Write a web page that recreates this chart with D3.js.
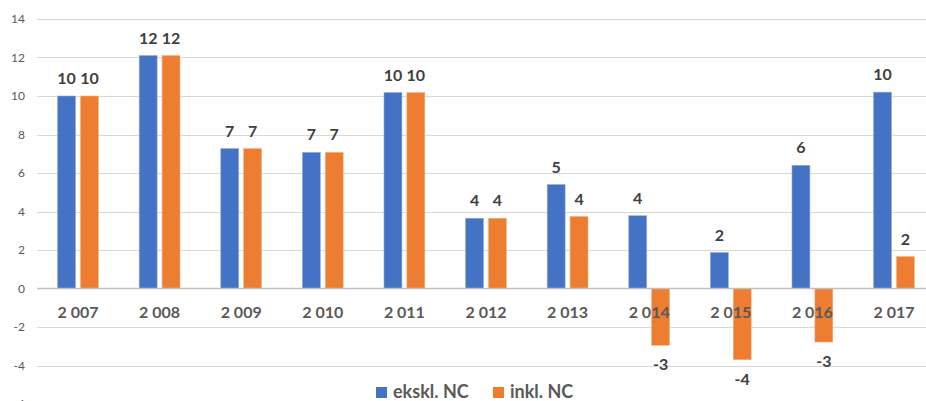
<!DOCTYPE html>
<html>
<head>
<meta charset="utf-8">
<script src="https://cdn.jsdelivr.net/npm/d3@7"></script>
<style>
  html, body { margin: 0; padding: 0; background: #fff; }
  svg { display: block; font-family: Lato, "Open Sans", sans-serif; }
</style>
</head>
<body>
<svg id="chart" width="926" height="401"></svg>
<script>
const categories = ["2 007","2 008","2 009","2 010","2 011","2 012","2 013","2 014","2 015","2 016","2 017"];
const ekskl = [10.0, 12.1, 7.27, 7.07, 10.18, 3.65, 5.4, 3.78, 1.87, 6.4, 10.2];
const inkl  = [10.0, 12.1, 7.27, 7.07, 10.18, 3.65, 3.74, -2.95, -3.7, -2.78, 1.66];
const seriesNames = ["ekskl. NC", "inkl. NC"];
const seriesColors = ["#4472C4", "#ED7D31"];
const yTicks = [-6, -4, -2, 0, 2, 4, 6, 8, 10, 12, 14];

const svg = d3.select("#chart");
const W = 926;
const textColor = "#595959";

const x = d3.scaleBand().domain(categories).range([37.2, 934.8]).paddingInner(0.5).paddingOuter(0.25);
const xInner = d3.scaleBand().domain([0, 1]).range([0, x.bandwidth()]).paddingInner(5/23);
const y = d3.scaleLinear().domain([-6, 14]).range([404, 19]);

// gridlines
svg.append("g").selectAll("line").data(yTicks.filter(d => d !== 0)).join("line")
  .attr("x1", 37).attr("x2", W)
  .attr("y1", d => Math.round(y(d)) + 0.5).attr("y2", d => Math.round(y(d)) + 0.5)
  .attr("stroke", "#d9d9d9").attr("stroke-width", 1);

// y tick labels
svg.append("g").selectAll("text").data(yTicks).join("text")
  .attr("x", 25).attr("y", d => y(d) + 4)
  .attr("text-anchor", "end")
  .attr("font-size", 12).attr("fill", textColor)
  .text(d => String(d));

// bars
const rows = categories.map((c, i) => ({ c, vals: [ekskl[i], inkl[i]] }));
const fmt = d3.formatLocale({decimal: ".", thousands: " ", grouping: [3], currency: ["", ""], minus: "-"}).format(".0f");
const groups = svg.append("g").selectAll("g").data(rows).join("g")
  .attr("transform", d => `translate(${x(d.c)},0)`);

groups.selectAll("rect").data(d => d.vals.map((v, k) => ({ v, k }))).join("rect")
  .attr("x", d => xInner(d.k))
  .attr("width", xInner.bandwidth())
  .attr("y", d => y(Math.max(0, d.v)))
  .attr("height", d => Math.abs(y(d.v) - y(0)))
  .attr("fill", d => seriesColors[d.k])
  .attr("stroke", d => d.k === 0 ? "#8faadc" : "#f4b183")
  .attr("stroke-width", 0.6);

groups.selectAll("text.val").data(d => d.vals.map((v, k) => ({ v, k }))).join("text")
  .attr("class", "val")
  .attr("x", d => xInner(d.k) + xInner.bandwidth() / 2)
  .attr("y", d => d.v >= 0 ? y(d.v) - 12 : y(d.v) + 25)
  .attr("text-anchor", "middle")
  .attr("font-size", 16).attr("font-weight", "bold").attr("fill", "#404040")
  .text(d => fmt(d.v));

// zero line
svg.append("line")
  .attr("x1", 37).attr("x2", W)
  .attr("y1", y(0)).attr("y2", y(0))
  .attr("stroke", "#bfbfbf").attr("stroke-width", 1.5);

// category labels
svg.append("g").selectAll("text").data(categories).join("text")
  .attr("x", d => x(d) + x.bandwidth() / 2)
  .attr("y", y(0) + 29.5)
  .attr("text-anchor", "middle")
  .attr("font-size", 16).attr("font-weight", "bold").attr("fill", textColor)
  .text(d => d);

// legend
const legendX = [376, 493];
const lg = svg.append("g").selectAll("g").data(seriesNames).join("g")
  .attr("transform", (d, i) => `translate(${legendX[i]},387)`);
lg.append("rect").attr("width", 11).attr("height", 11).attr("fill", (d, i) => seriesColors[i]);
lg.append("text").attr("x", 17).attr("y", 11)
  .attr("font-size", 18).attr("font-weight", "bold").attr("fill", textColor)
  .text(d => d);
</script>
</body>
</html>
